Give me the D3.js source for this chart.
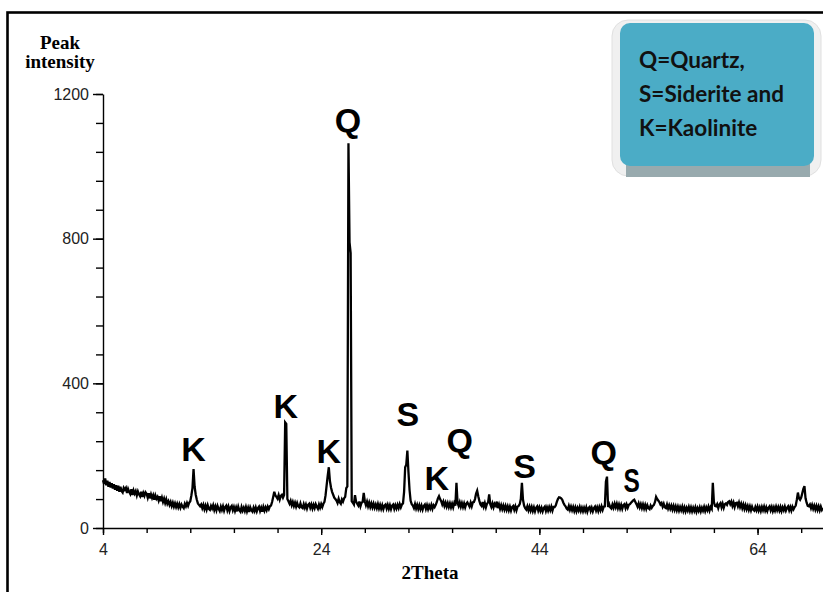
<!DOCTYPE html>
<html>
<head>
<meta charset="utf-8">
<script src="https://cdn.jsdelivr.net/npm/d3@7"></script>
<style>
  html, body { margin: 0; padding: 0; background: #fff; }
  svg { display: block; }
</style>
</head>
<body>
<svg id="chart" width="823" height="592"></svg>
<script>
// XRD scan: 2θ from 4° to 70° in 0.1° steps
const scanStart = 4;
const scanStep = 0.1;
const counts = [
  // 4
  132,122,137,118,131,114,127,112,124,109,
  // 5
  121,106,118,103,117,100,114,102,98,111,
  // 6
  106,111,97,108,100,94,107,91,104,95,
  // 7
  102,90,101,93,88,100,86,97,89,99,
  // 8
  95,84,96,82,93,83,91,78,90,81,
  // 9
  86,76,88,74,84,72,81,69,79,67,
  // 10
  74,64,72,61,70,59,68,58,67,57,
  // 11
  66,56,65,59,55,67,60,69,61,70,
  // 12
  74,90,110,163,114,92,78,68,64,60,
  // 13
  65,55,64,52,62,51,63,53,50,61,
  // 14
  54,63,50,60,49,61,53,47,59,50,
  // 15
  60,48,58,62,49,59,47,57,61,49,
  // 16
  58,47,57,46,59,49,45,58,48,56,
  // 17
  47,58,46,56,44,57,49,45,56,47,
  // 18
  57,46,55,59,47,56,45,58,48,57,
  // 19
  49,59,52,60,62,72,86,100,90,86,
  // 20
  81,91,79,89,92,84,91,292,288,80,
  // 21
  74,67,75,63,72,61,70,59,69,60,
  // 22
  57,68,58,55,66,56,65,54,64,67,
  // 23
  56,65,54,64,55,66,59,53,65,56,
  // 24
  66,58,67,72,90,118,145,168,130,112,
  // 25
  100,92,84,80,76,69,81,71,67,79,
  // 26
  73,82,86,110,115,1064,790,760,74,70,
  // 27
  65,91,73,67,62,73,60,70,72,97,
  // 28
  74,63,73,60,70,58,68,57,67,56,
  // 29
  65,55,66,54,64,53,63,52,62,65,
  // 30
  54,64,53,63,52,62,65,53,63,54,
  // 31
  64,55,66,57,65,68,100,168,175,214,
  // 32
  155,105,75,66,62,55,66,54,64,53,
  // 33
  63,52,62,51,61,65,53,63,52,62,
  // 34
  54,64,53,63,58,64,72,82,88,80,
  // 35
  74,65,73,61,70,59,69,58,68,57,
  // 36
  67,57,69,62,125,70,61,71,59,69,
  // 37
  58,68,57,67,71,65,59,70,60,71,
  // 38
  72,80,95,103,88,75,65,61,72,59,
  // 39
  69,57,67,71,93,66,58,68,57,67,
  // 40
  62,73,55,65,53,63,52,62,51,61,
  // 41
  50,60,49,59,48,58,61,50,60,49,
  // 42
  59,61,66,80,125,78,62,55,51,60,
  // 43
  49,59,48,58,47,57,46,56,60,48,
  // 44
  57,47,56,46,55,59,47,57,48,58,
  // 45
  49,59,48,58,58,62,72,80,85,84,
  // 46
  82,78,70,64,60,54,51,61,50,59,
  // 47
  49,58,47,57,46,56,48,58,47,56,
  // 48
  46,56,47,57,45,55,58,47,56,46,
  // 49
  55,59,48,57,47,58,49,60,50,59,
  // 50
  60,128,142,58,66,57,54,65,56,67,
  // 51
  57,67,55,65,54,64,53,63,66,55,
  // 52
  65,56,64,66,70,73,76,78,72,66,
  // 53
  59,68,57,66,55,65,54,64,53,63,
  // 54
  55,52,62,56,61,64,72,86,80,76,
  // 55
  72,65,69,59,67,57,55,65,54,63,
  // 56
  53,62,51,61,50,60,49,59,48,58,
  // 57
  49,59,47,57,46,56,48,58,47,57,
  // 58
  46,56,47,57,45,55,47,57,46,56,
  // 59
  48,58,47,57,49,59,48,58,53,125,
  // 60
  72,61,60,66,55,65,69,57,67,56,
  // 61
  66,68,64,72,74,66,73,61,70,58,
  // 62
  69,70,60,70,58,67,55,65,53,63,
  // 63
  52,61,50,60,49,59,51,48,58,49,
  // 64
  59,48,57,47,58,49,59,48,57,47,
  // 65
  56,60,49,58,47,57,48,59,49,58,
  // 66
  48,58,47,57,49,59,48,56,60,49,
  // 67
  58,48,59,52,58,62,78,98,82,78,
  // 68
  84,96,108,116,82,70,61,60,65,55,
  // 69
  64,53,62,51,61,50,60,49,59,50,
  // 70
  55
];

// Phase annotations, anchored in data coordinates (2θ, counts)
const peakLabels = ["K", "K", "K", "Q", "S", "K", "Q", "S", "Q", "S"];
const peakLabelAngles = [12.3, 20.76, 24.7, 26.45, 31.94, 34.6, 36.7, 42.65, 49.9, 52.46];
const peakLabelLevels = [185, 304, 180, 1095, 282, 105, 210, 138, 177, 100];

const xMajorTicks = [4, 24, 44, 64];
const yMajorTicks = [0, 400, 800, 1200];

const legendLines = ["Q=Quartz,", "S=Siderite and", "K=Kaolinite"];

const svg = d3.select("#chart");

const x = d3.scaleLinear().domain([4, 70]).range([103, 823]);
const y = d3.scaleLinear().domain([0, 1200]).range([528, 94]);

// outer frame
svg.append("rect")
  .attr("x", 7.5).attr("y", 12.5)
  .attr("width", 830).attr("height", 600)
  .attr("fill", "none").attr("stroke", "#000").attr("stroke-width", 2.6);

// y axis: minor ticks every 80 counts, labelled majors every 400
svg.append("g").attr("transform", "translate(103,0)")
  .call(d3.axisLeft(y).tickValues(d3.range(0, 1201, 80)).tickSize(7).tickFormat(""))
  .call(g => g.select(".domain").remove());
const yMajor = svg.append("g").attr("transform", "translate(103,0)")
  .call(d3.axisLeft(y).tickValues(yMajorTicks).tickSize(10).tickPadding(4)
    .tickSizeOuter(0).tickFormat(d3.format("d")));
yMajor.select(".domain").attr("stroke-width", 1.4);
yMajor.selectAll("text")
  .attr("font-family", "'Liberation Sans', Arial, sans-serif")
  .attr("font-size", 16).attr("fill", "#222");

// x axis: minor ticks every 4°, labelled majors every 20°
svg.append("g").attr("transform", "translate(0,528)")
  .call(d3.axisBottom(x).tickValues(d3.range(4, 70, 4)).tickSize(5).tickFormat("").tickSizeOuter(0))
  .call(g => g.select(".domain").remove());
const xMajor = svg.append("g").attr("transform", "translate(0,528)")
  .call(d3.axisBottom(x).tickValues(xMajorTicks).tickSize(7).tickPadding(9)
    .tickSizeOuter(0).tickFormat(d3.format("d")));
xMajor.select(".domain").attr("stroke-width", 1.4);
xMajor.selectAll("text")
  .attr("font-family", "'Liberation Sans', Arial, sans-serif")
  .attr("font-size", 16).attr("fill", "#222");

svg.selectAll("g.tick line").attr("stroke", "#000").attr("stroke-width", 1.4);

// axis titles
const title = svg.append("text")
  .attr("text-anchor", "middle")
  .attr("font-family", "'Liberation Serif', 'Times New Roman', serif")
  .attr("font-weight", "bold").attr("font-size", 19);
title.append("tspan").attr("x", 60).attr("y", 49).text("Peak");
title.append("tspan").attr("x", 60).attr("y", 68).text("intensity");

svg.append("text")
  .attr("x", 430).attr("y", 579)
  .attr("text-anchor", "middle")
  .attr("font-family", "'Liberation Serif', 'Times New Roman', serif")
  .attr("font-weight", "bold").attr("font-size", 19)
  .text("2Theta");

// diffraction trace
const scan = counts.map((c, i) => [scanStart + i * scanStep, c]);
const line = d3.line().x(d => x(d[0])).y(d => y(d[1]));
svg.append("path")
  .datum(scan)
  .attr("d", line)
  .attr("fill", "none")
  .attr("stroke", "#000")
  .attr("stroke-width", 2.3)
  .attr("stroke-linejoin", "miter");

// phase labels
peakLabels.forEach((lab, i) => {
  const narrow = i === peakLabels.length - 1;
  const px = x(peakLabelAngles[i]);
  const py = y(peakLabelLevels[i]);
  svg.append("text")
    .attr("transform", `translate(${px},${py}) scale(${narrow ? 0.72 : 1},1)`)
    .attr("text-anchor", "middle")
    .attr("font-family", "'Liberation Sans', Arial, sans-serif")
    .attr("font-weight", "bold")
    .attr("font-size", 34)
    .attr("fill", "#000")
    .text(lab);
});

// legend box
const lg = svg.append("g");
lg.append("rect")
  .attr("x", 612).attr("y", 20).attr("width", 209).attr("height", 156)
  .attr("rx", 16).attr("fill", "#f0f0f0").attr("stroke", "#e0e0e0");
lg.append("rect")
  .attr("x", 626).attr("y", 158).attr("width", 184).attr("height", 19)
  .attr("fill", "#98aaae");
lg.append("rect")
  .attr("x", 620).attr("y", 23).attr("width", 194).attr("height", 143)
  .attr("rx", 10).attr("fill", "#4bacc6");
lg.selectAll("text.legend")
  .data(legendLines)
  .join("text")
  .attr("class", "legend")
  .attr("x", 639)
  .attr("y", (d, i) => 68 + i * 34)
  .attr("font-family", "Lato, 'Open Sans', sans-serif")
  .attr("font-weight", "bold")
  .attr("font-size", 22.5)
  .attr("fill", "#111")
  .text(d => d);
</script>
</body>
</html>
